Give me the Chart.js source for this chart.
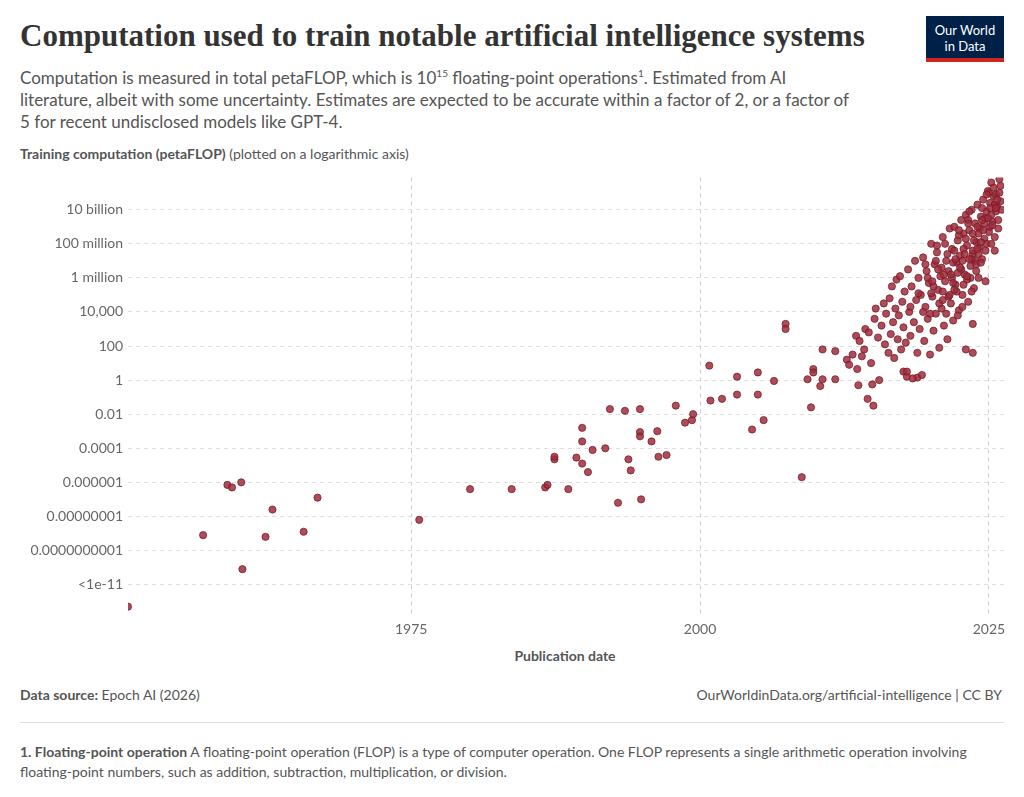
<!DOCTYPE html>
<html>
<head>
<meta charset="utf-8">
<script src="https://cdn.jsdelivr.net/npm/chart.js@4"></script>
<style>
  body { margin: 0; background: #fff; font-family: Lato, "Noto Sans", sans-serif; color: #555; }
  .wrap { position: relative; width: 1024px; height: 797px; }
  h1 { position: absolute; left: 20px; top: 18px; margin: 0; font-family: "Liberation Serif", "DejaVu Serif", serif; font-size: 31px; font-weight: bold; color: #333; }
  .sub { position: absolute; left: 20px; top: 62px; width: 835px; font-size: 17px; line-height: 22px; color: #555; }
  .ytitle { position: absolute; left: 20px; top: 145px; font-size: 14px; color: #555; }
  .logo { position: absolute; left: 926px; top: 16px; width: 78px; height: 46px; background: #002147; color: #fff; font-size: 13px; text-align: center; line-height: 16px; padding-top: 6px; box-sizing: border-box; border-bottom: 4px solid #ce261e; }
  .xtitle { position: absolute; left: 0; width: 1130px; text-align: center; top: 647px; font-size: 14px; font-weight: bold; color: #555; }
  .src { position: absolute; left: 20px; top: 686px; font-size: 14px; }
  .url { position: absolute; right: 22px; top: 686px; font-size: 14px; }
  .rule { position: absolute; left: 20px; right: 20px; top: 722px; border-top: 1px solid #ddd; }
  .note { position: absolute; left: 20px; top: 742px; width: 960px; font-size: 14px; line-height: 20px; }
  canvas { position: absolute; left: 0; top: 164px; }
</style>
</head>
<body>
<div class="wrap">
  <h1>Computation used to train notable artificial intelligence systems</h1>
  <div class="logo">Our World<br>in Data</div>
  <div class="sub">Computation is measured in total petaFLOP, which is 10<sup style="font-size:10px">15</sup> floating-point operations<sup style="font-size:10px">1</sup>. Estimated from AI literature, albeit with some uncertainty. Estimates are expected to be accurate within a factor of 2, or a factor of 5 for recent undisclosed models like GPT-4.</div>
  <div class="ytitle"><b>Training computation (petaFLOP)</b> (plotted on a logarithmic axis)</div>
  <canvas id="c" width="1024" height="480"></canvas>
  <div class="xtitle">Publication date</div>
  <div class="src"><b>Data source:</b> Epoch AI (2026)</div>
  <div class="url">OurWorldinData.org/artificial-intelligence | CC BY</div>
  <div class="rule"></div>
  <div class="note"><b>1. Floating-point operation</b> A floating-point operation (FLOP) is a type of computer operation. One FLOP represents a single arithmetic operation involving floating-point numbers, such as addition, subtraction, multiplication, or division.</div>
</div>
<script>
// publication year and log10(petaFLOP)
const years = [
  1950.5,1957.0,1959.1,1959.5,1960.3,1960.4,1962.4,1963.0,1965.7,1966.9,1975.7,1980.1,1983.7,1986.6,1986.8,
  1987.4,1987.4,1988.6,1989.3,1989.8,1989.8,1989.8,1990.3,1990.7,1991.8,1992.2,1992.9,1993.5,1993.8,1994.0,
  1994.8,1994.8,1994.8,1994.9,1995.8,1996.3,1996.4,1997.1,1997.9,1998.7,1999.3,1999.4,2000.8,2000.9,2001.9,
  2003.2,2003.2,2004.5,2005.0,2005.0,2005.5,2006.4,2007.4,2007.4,2008.8,2009.3,2009.6,2009.8,2009.8,2010.4,
  2010.6,2010.6,2011.7,2011.7,2012.7,2013.6,2013.7,2014.2,2014.5,2014.9,2017.6,2017.9,2018.8,2023.0,2023.6,2023.6,
  2012.9,2013.2,2013.5,2013.8,2014.0,2014.3,2014.6,2014.8,2015.0,2015.1,2015.2,2015.4,2015.5,2015.7,2015.9,
  2016.0,2016.1,2016.3,2016.4,2016.5,2016.6,2016.7,2016.8,2016.9,2017.0,2017.1,2017.2,2017.3,2017.4,2017.5,
  2017.6,2017.7,2017.8,2017.9,2018.0,2018.1,2018.2,2018.3,2018.4,2018.5,2018.6,2018.7,2018.8,2018.9,2019.0,
  2019.1,2019.2,2019.3,2019.4,2019.5,2019.6,2019.7,2019.8,2019.9,2020.0,2020.1,2020.2,2020.3,2020.4,2020.5,
  2020.6,2020.7,2020.8,2020.9,2021.0,2021.1,2021.2,2021.3,2021.4,2021.5,2021.6,2021.7,2021.8,2021.9,2022.0,
  2022.1,2022.2,2022.3,2022.4,2022.5,2022.6,2022.7,2022.8,2022.9,2023.0,2023.1,2023.2,2023.3,2023.4,2023.5,
  2023.6,2023.7,2023.8,2023.9,2024.0,2024.1,2024.2,2024.3,2024.4,2024.5,2024.6,2024.7,2024.8,2024.9,2025.0,
  2025.1,2025.2,2025.3,2025.4,2025.5,2025.6,2025.7,2025.8,2026.0,
  2018.2,2018.9,2019.5,2019.9,2020.2,2020.5,2020.9,2021.2,2021.5,2021.8,2022.0,2022.2,2022.4,2022.6,2022.8,
  2023.0,2023.2,2023.4,2023.6,2023.8,2024.0,2024.2,2024.4,2024.6,2024.8,2025.0,2025.2,2025.4,2025.6,2025.9,
  2021.0,2021.4,2021.9,2022.3,2022.7,2023.1,2023.5,2023.9,2024.3,2024.7,2025.1,2025.5,2025.8,2024.1,2023.3,
  2019.3,2019.7,2020.0,2020.4,2020.7,2021.1,2021.3,2021.6,2021.9,2022.1,2022.3,2022.5,2022.7,2022.9,2023.1,
  2023.3,2023.5,2023.7,2023.9,2024.1,2024.3,2024.5,2024.7,2024.9,2025.1,2025.3,2025.5,2025.7,2025.9,2026.1,
  2020.1,2020.6,2021.0,2021.7,2022.0,2022.4,2022.8,2023.2,2023.6,2024.0,2024.4,2024.8,2025.2,2025.6,2026.0
];
const logCompute = [
  -13.3,-9.1,-6.15,-6.3,-6.0,-11.1,-9.2,-7.6,-8.9,-6.9,-8.2,-6.4,-6.4,-6.3,-6.15,
  -4.65,-4.5,-6.4,-4.55,-2.8,-3.6,-4.9,-5.4,-4.1,-4.0,-1.7,-7.2,-1.8,-4.65,-5.3,
  -1.7,-3.05,-3.3,-7.0,-3.6,-3.0,-4.5,-4.4,-1.5,-2.5,-2.35,-2.0,0.85,-1.2,-1.1,
  0.2,-0.85,-2.9,0.45,-0.85,-2.35,-0.05,3.3,3.0,-5.7,0.05,-1.6,0.65,0.45,-0.35,
  1.8,0.05,1.7,0.05,1.2,0.65,-0.3,1.8,-1.1,-0.25,0.5,0.2,0.15,1.8,1.6,3.3,
  0.9,1.5,2.6,2.3,1.4,3.0,2.8,1.0,-1.5,3.6,4.2,2.5,0.0,3.2,4.5,
  2.1,3.9,1.6,4.8,2.7,5.5,3.4,1.3,4.2,5.9,2.4,3.8,6.1,1.8,4.6,
  3.1,5.2,2.2,0.5,6.5,4.0,2.6,5.5,0.1,3.4,7.0,4.7,1.6,6.0,3.0,
  5.0,0.3,7.2,2.3,4.3,6.4,3.6,5.7,1.5,8.0,4.9,2.9,6.8,3.9,7.5,
  5.3,1.9,6.1,4.2,8.4,3.2,5.8,7.0,2.4,6.4,8.9,4.5,7.7,3.5,9.0,
  5.6,6.9,8.2,4.1,7.3,9.4,5.0,8.6,6.2,9.7,7.9,4.6,8.8,6.7,10.0,
  7.4,5.4,9.2,8.1,10.3,6.0,8.9,9.6,7.1,10.6,8.3,5.8,9.9,11.1,8.7,
  10.4,11.6,9.3,10.8,7.6,9.9,10.2,8.9,10.5,
  4.3,5.1,6.8,3.9,5.5,7.9,6.6,8.0,4.9,6.0,7.6,5.2,8.5,6.5,7.7,
  8.3,9.4,6.0,8.6,7.0,9.0,7.8,10.1,9.2,8.0,11.0,9.7,11.3,10.9,11.8,
  5.2,7.4,5.7,6.3,7.0,5.9,7.1,6.8,8.1,9.5,9.0,10.3,9.4,7.4,9.9,
  4.0,6.0,5.1,7.0,4.5,6.2,3.9,5.0,6.9,7.1,3.8,6.6,4.3,7.4,6.1,
  7.1,5.2,8.2,6.4,8.6,6.9,8.8,7.6,9.5,10.1,9.1,8.4,10.6,11.0,10.0,
  5.8,6.5,4.7,6.2,5.3,8.8,5.6,9.2,7.6,7.7,9.4,10.9,8.0,10.1,11.4
];
const xTicks = [1975, 2000, 2025];
const yTickExps = [10, 8, 6, 4, 2, 0, -2, -4, -6, -8, -10, -12];
const yTickLabels = ['10 billion','100 million','1 million','10,000','100','1','0.01','0.0001','0.000001','0.00000001','0.0000000001','<1e-11'];

const points = years.map((y, i) => ({ x: y, y: Math.pow(10, logCompute[i]) }));

new Chart(document.getElementById('c'), {
  type: 'scatter',
  data: { datasets: [{
    data: points,
    backgroundColor: 'rgba(160,45,60,0.85)',
    borderColor: 'rgba(110,25,35,0.9)',
    borderWidth: 0.8,
    pointRadius: 3.6
  }]},
  options: {
    responsive: false,
    animation: false,
    layout: { padding: { left: 0, right: 20, top: 0, bottom: 0 } },
    plugins: { legend: { display: false }, tooltip: { enabled: false } },
    scales: {
      x: {
        type: 'linear', min: 1950.5, max: 2026.3,
        afterBuildTicks: s => { s.ticks = xTicks.map(v => ({ value: v })); },
        ticks: { color: '#666', font: { family: 'Lato', size: 14 }, padding: 6, callback: v => String(v) },
        grid: { color: '#ccc', drawTicks: false },
        border: { display: false, dash: [4, 4] }
      },
      y: {
        type: 'logarithmic', min: Math.pow(10, -13.8), max: Math.pow(10, 11.9),
        afterBuildTicks: s => { s.ticks = yTickExps.map(e => ({ value: Math.pow(10, e) })); },
        afterFit: s => { s.width = 128; },
        ticks: {
          color: '#666', font: { family: 'Lato', size: 14 }, padding: 5,
          callback: (v) => { const i = yTickExps.indexOf(Math.round(Math.log10(v))); return i >= 0 ? yTickLabels[i] : ''; }
        },
        grid: { color: '#ddd', drawTicks: false },
        border: { display: false, dash: [4, 4] }
      }
    }
  }
});
</script>
</body>
</html>
